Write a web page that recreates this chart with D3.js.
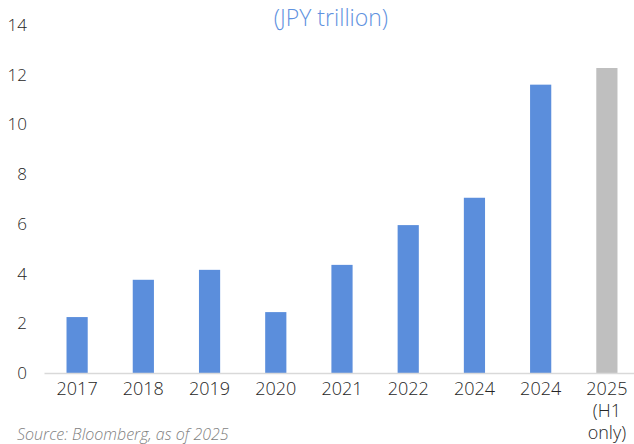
<!DOCTYPE html>
<html>
<head>
<meta charset="utf-8">
<script src="https://cdn.jsdelivr.net/npm/d3@7"></script>
<style>
  body { margin: 0; background: #fff; }
  svg { display: block; font-family: "Open Sans", Lato, sans-serif; }
</style>
</head>
<body>
<div id="chart"></div>
<script>
// Chart size
const width = 634;
const height = 444;
const margin = {left: 44, right: -6, top: 25, bottom: 71};

// Data
const years = ["2017", "2018", "2019", "2020", "2021", "2022", "2024", "2024 ", "2025"];
const values = [2.25, 3.75, 4.15, 2.45, 4.35, 5.95, 7.05, 11.6, 12.27];
const subLabels = ["", "", "", "", "", "", "", "", "(H1|only)"];
const partial = [false, false, false, false, false, false, false, false, true];
const yTicks = [0, 2, 4, 6, 8, 10, 12, 14];

const data = years.map((y, i) => ({year: y, value: values[i], sub: subLabels[i], partial: partial[i]}));

const svg = d3.select("#chart")
  .append("svg")
  .attr("width", width)
  .attr("height", height);

// Scales
const xScale = d3.scaleBand()
  .domain(years)
  .range([margin.left, width - margin.right])
  .paddingInner(0.68)
  .paddingOuter(0.34);

const yScale = d3.scaleLinear()
  .domain([0, 14])
  .range([height - margin.bottom, margin.top]);

// Y axis, labels only
const yAxis = svg.append("g")
  .attr("transform", `translate(${margin.left - 17}, 0)`)
  .call(d3.axisLeft(yScale).tickValues(yTicks).tickSize(0).tickPadding(0));
yAxis.select(".domain").remove();
yAxis.selectAll("text")
  .attr("font-size", "17px")
  .attr("font-weight", 300)
  .attr("fill", "#262626")
  .attr("font-family", "'Open Sans', sans-serif");

// Bars
svg.selectAll(".bar")
  .data(data)
  .enter()
  .append("rect")
    .attr("class", "bar")
    .attr("x", d => xScale(d.year))
    .attr("y", d => yScale(d.value))
    .attr("width", xScale.bandwidth())
    .attr("height", d => yScale(0) - yScale(d.value))
    .attr("fill", d => d.partial ? "#BFBFBF" : "#5B8EDC");

// X axis
const xAxis = svg.append("g")
  .attr("transform", `translate(0, ${yScale(0)})`)
  .call(d3.axisBottom(xScale).tickSize(0).tickPadding(9));
xAxis.select(".domain")
  .attr("stroke", "#D9D9D9")
  .attr("stroke-width", 1.5);
xAxis.selectAll(".tick text")
  .attr("font-size", "18px")
  .attr("font-weight", 300)
  .attr("fill", "#262626")
  .attr("font-family", "'Open Sans', sans-serif");

// extra lines under a tick label, e.g. "(H1 only)"
xAxis.selectAll(".tick").each(function(d, i) {
  const sub = data[i].sub;
  if (!sub) return;
  sub.split("|").forEach((line, k) => {
    d3.select(this).append("text")
      .attr("y", 9 + 22 * (k + 1))
      .attr("dy", "0.71em")
      .attr("text-anchor", "middle")
      .attr("font-size", "18px")
      .attr("font-weight", 300)
      .attr("fill", "#262626")
      .attr("font-family", "'Open Sans', sans-serif")
      .text(line);
  });
});

// Title
svg.append("text")
  .attr("x", 331)
  .attr("y", 26)
  .attr("text-anchor", "middle")
  .attr("font-size", "23px")
  .attr("font-weight", 300)
  .attr("fill", "#5F92E0")
  .text("(JPY trillion)");

// Source
svg.append("text")
  .attr("x", 17)
  .attr("y", 440)
  .attr("font-size", "16px")
  .attr("font-style", "italic")
  .attr("font-weight", 300)
  .attr("fill", "#7F7F7F")
  .text("Source: Bloomberg, as of 2025");
</script>
</body>
</html>
